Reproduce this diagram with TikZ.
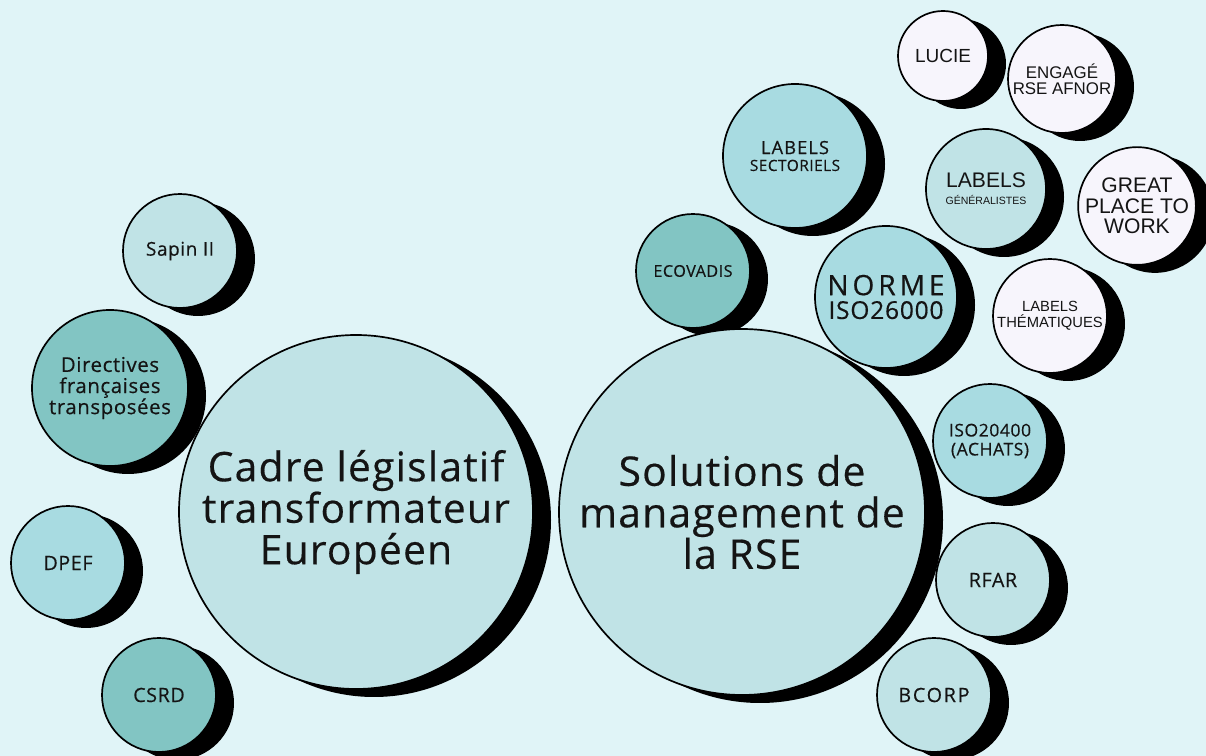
\documentclass[tikz,border=0pt]{standalone}
\usepackage{fontspec}
\setmainfont[LetterSpace=3,FakeBold=0.4]{Open Sans}
\newfontfamily\arialfont{Liberation Sans}
\usetikzlibrary{shadows}

\definecolor{fond}{HTML}{E0F4F7}
\definecolor{tealclair}{HTML}{C0E3E6}
\definecolor{bleuclair}{HTML}{A8DBE1}
\definecolor{tealmoyen}{HTML}{82C5C3}
\definecolor{lavande}{HTML}{F7F5FC}
\definecolor{encre}{HTML}{141414}

\tikzset{
    % la bulle de base, avec son ombre noire decalee
    bulle/.style={
        circle,
        draw=black,
        line width=1.2pt,
        align=center,
        inner sep=0pt,
        text=encre,
        drop shadow={shadow xshift=0.45cm, shadow yshift=-0.2cm, fill=black, opacity=1}
    },
    % les quatre teintes des bulles
    bulle_claire/.style={bulle, fill=tealclair},
    bulle_bleue/.style={bulle, fill=bleuclair},
    bulle_teal/.style={bulle, fill=tealmoyen},
    bulle_label/.style={bulle, fill=lavande, font=\arialfont}
}

\begin{document}
\begin{tikzpicture}

    % --- 0. Fond ---
    \fill[fond] (0,0) rectangle (30.15,18.9);
    \useasboundingbox (0,0) rectangle (30.15,18.9);

    % --- 1. Cadre legislatif (gauche) ---
    \node[bulle_claire, minimum size=2.85cm, font=\fontsize{13.5}{14}\selectfont] (sapin) at (4.5, 12.625) {Sapin II};
    \node[bulle_teal, minimum size=3.9cm, font=\fontsize{14.5}{15}\selectfont] (directives) at (2.75, 9.2)
        {Directives\\françaises\\transposées};
    \node[bulle_bleue, minimum size=2.85cm, font=\fontsize{14}{14}\selectfont] (dpef) at (1.7, 4.825) {DPEF};
    \node[bulle_teal, minimum size=2.85cm, font=\fontsize{14}{14}\selectfont] (csrd) at (3.975, 1.525) {CSRD};
    \node[bulle_claire, minimum size=8.85cm, font=\fontsize{29}{29.5}\selectfont] (cadre) at (8.9, 6.1)
        {Cadre législatif\\transformateur\\Européen};

    % --- 2. Solutions de management (droite) ---
    \node[bulle_label, minimum size=2.25cm, font=\arialfont\fontsize{13.5}{14}\selectfont] (lucie) at (23.575, 17.5) {LUCIE};
    \node[bulle_label, minimum size=2.7cm, font=\arialfont\fontsize{12}{11.5}\selectfont] (afnor) at (26.55, 16.925)
        {ENGAGÉ\\RSE AFNOR};
    \node[bulle_bleue, minimum size=3.6cm] (sectoriels) at (19.875, 15.0)
        {{\fontsize{13}{16}\selectfont\addfontfeatures{LetterSpace=6}LABELS}\\{\fontsize{11}{13}\selectfont SECTORIELS}};
    \node[bulle_claire, minimum size=3.0cm, font=\arialfont] (generalistes) at (24.65, 14.175)
        {{\fontsize{15}{15}\selectfont LABELS}\\{\fontsize{7.5}{9}\selectfont GÉNÉRALISTES}};
    \node[bulle_label, minimum size=2.9cm, font=\arialfont\fontsize{15}{14.5}\selectfont] (greatplace) at (28.425, 13.75)
        {GREAT\\PLACE TO\\WORK};
    \node[bulle_teal, minimum size=2.85cm, font=\fontsize{11.5}{12}\selectfont] (ecovadis) at (17.325, 12.125) {ECOVADIS};
    \node[bulle_bleue, minimum size=3.55cm] (norme) at (22.15, 11.475)
        {{\fontsize{20}{20}\selectfont\addfontfeatures{LetterSpace=14}NORME}\\[3pt]{\fontsize{17.5}{21}\selectfont ISO26000}};
    \node[bulle_label, minimum size=2.85cm, font=\arialfont\fontsize{10.5}{11.5}\selectfont] (thematiques) at (26.25, 11.0)
        {LABELS\\THÉMATIQUES};
    \node[bulle_bleue, minimum size=2.85cm, font=\fontsize{12.5}{13.5}\selectfont] (achats) at (24.75, 7.875)
        {ISO20400\\(ACHATS)};
    \node[bulle_claire, minimum size=9.15cm, font=\fontsize{29}{29.5}\selectfont] (solutions) at (18.55, 6.1)
        {Solutions de\\management de\\la RSE};
    \node[bulle_claire, minimum size=2.85cm, font=\fontsize{14}{14}\selectfont] (rfar) at (24.825, 4.4) {RFAR};
    \node[bulle_claire, minimum size=2.85cm, font=\fontsize{14}{14}\selectfont\addfontfeatures{LetterSpace=9}] (bcorp) at (23.35, 1.525) {BCORP};

\end{tikzpicture}
\end{document}
